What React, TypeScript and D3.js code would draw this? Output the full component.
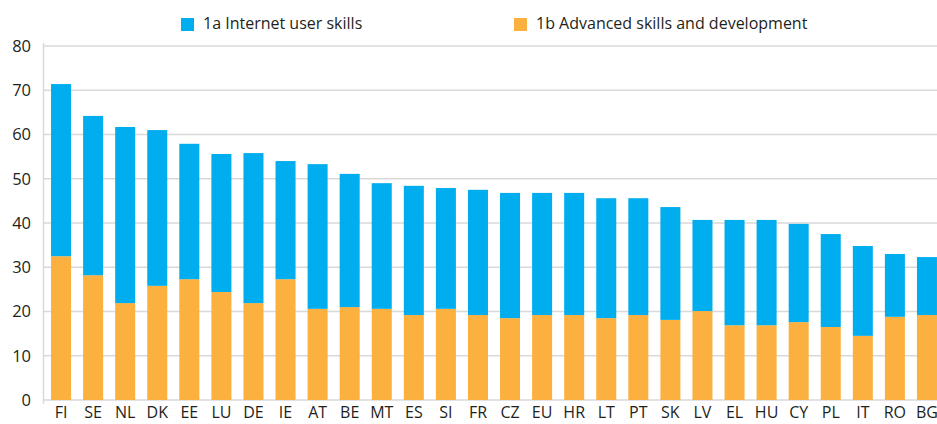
import React from "react";
import * as d3 from "d3";

const categories = ["FI","SE","NL","DK","EE","LU","DE","IE","AT","BE","MT","ES","SI","FR","CZ","EU","HR","LT","PT","SK","LV","EL","HU","CY","PL","IT","RO","BG"];
const advancedSkills = [32.5,28.2,21.9,25.8,27.3,24.4,21.9,27.3,20.6,21.0,20.6,19.2,20.6,19.2,18.5,19.2,19.2,18.5,19.2,18.1,20.1,16.9,16.9,17.6,16.5,14.5,18.8,19.2];
const internetSkills = [38.9,36.0,39.8,35.2,30.6,31.2,33.9,26.7,32.7,30.1,28.4,29.2,27.3,28.3,28.3,27.6,27.6,27.1,26.4,25.5,20.6,23.8,23.8,22.2,21.0,20.3,14.2,13.1];
const yTicks = [0,10,20,30,40,50,60,70,80];
const seriesNames = ["1a Internet user skills", "1b Advanced skills and development"];

const W = 937, H = 424;
const BLUE = "#00ADEE", ORANGE = "#FBB040";
const FONT = "'Open Sans', 'Noto Sans', sans-serif";

export default function App() {
  const x = d3.scaleBand<string>().domain(categories).range([45, 943]).paddingInner(0.376).paddingOuter(0.188);
  const y = d3.scaleLinear().domain([0, 80]).range([400, 46]);
  const rows = categories.map((c, i) => ({ c, a: internetSkills[i], b: advancedSkills[i] }));
  const stack = d3.stack<any>().keys(["b", "a"])(rows);
  const colors: Record<string, string> = { b: ORANGE, a: BLUE };
  return (
    <svg width={W} height={H} style={{ position: "absolute", left: 0, top: 0, background: "#fff" }}>
      {yTicks.map(t => (
        <g key={t}>
          <line x1={43.5} x2={W} y1={y(t)} y2={y(t)} stroke="#d9d9d9" strokeWidth={1.5} />
          <text x={31} y={y(t)} dy="0.35em" textAnchor="end" fontFamily={FONT} fontSize={16.5} fill="#231f20">{t}</text>
        </g>
      ))}
      <line x1={43.5} x2={43.5} y1={43} y2={404} stroke="#d9d9d9" strokeWidth={1.5} />
      {stack.map(s => (
        <g key={s.key} fill={colors[s.key]}>
          {s.map((d, i) => (
            <rect key={i} x={x(categories[i])} width={x.bandwidth()} y={y(d[1])} height={y(d[0]) - y(d[1])} />
          ))}
        </g>
      ))}
      {categories.map(c => (
        <text key={c} x={(x(c) as number) + x.bandwidth() / 2} y={418} textAnchor="middle" fontFamily={FONT} fontSize={16} fill="#231f20">{c}</text>
      ))}
      <rect x={181} y={18} width={13} height={13} fill={BLUE} />
      <text x={203} y={29} fontFamily={FONT} fontSize={16} fill="#231f20">{seriesNames[0]}</text>
      <rect x={514} y={18} width={13} height={13} fill={ORANGE} />
      <text x={536} y={29} fontFamily={FONT} fontSize={16} fill="#231f20">{seriesNames[1]}</text>
    </svg>
  );
}
